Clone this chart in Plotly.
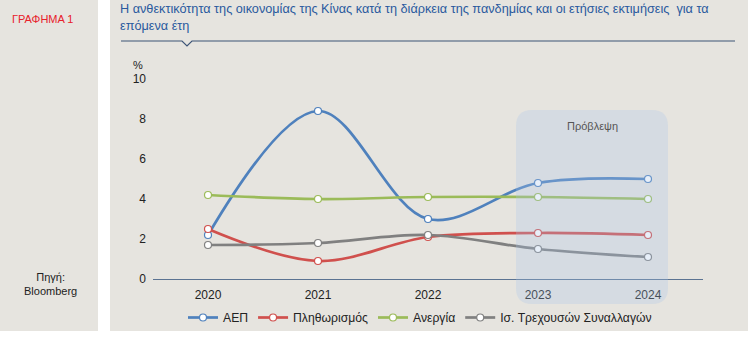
import plotly.graph_objects as go

W, H = 751, 338

years = [2020, 2021, 2022, 2023, 2024]
gdp = [2.2, 8.4, 3.0, 4.8, 5.0]
inflation = [2.5, 0.9, 2.1, 2.3, 2.2]
unemployment = [4.2, 4.0, 4.1, 4.1, 4.0]
current_account = [1.7, 1.8, 2.2, 1.5, 1.1]

series_names = ["ΑΕΠ", "Πληθωρισμός", "Ανεργία", "Ισ. Τρεχουσών Συναλλαγών"]
series_values = [gdp, inflation, unemployment, current_account]
series_colors = ["#4f81bd", "#d0504d", "#9bbb59", "#808080"]

y_ticks = [0, 2, 4, 6, 8, 10]

title_text = ("Η ανθεκτικότητα της οικονομίας της Κίνας κατά τη διάρκεια της πανδημίας "
              "και οι ετήσιες εκτιμήσεις  για τα<br>επόμενα έτη")

FONT = "Liberation Sans, Arial, sans-serif"


def px_x(p):
    return p / W


def px_y(p):
    return 1 - p / H


fig = go.Figure()
for name, vals, col in zip(series_names, series_values, series_colors):
    fig.add_trace(go.Scatter(
        x=years, y=vals, name=name, mode="lines+markers",
        line=dict(color=col, width=2.7, shape="spline", smoothing=1.0),
        marker=dict(size=7, color="white", line=dict(color=col, width=1.2)),
    ))

shapes = [
    # side panel and main panel backgrounds
    dict(type="rect", xref="paper", yref="paper", layer="below",
         x0=0, x1=px_x(98), y0=px_y(331), y1=1,
         fillcolor="#e6e4df", line=dict(width=0)),
    dict(type="rect", xref="paper", yref="paper", layer="below",
         x0=px_x(110), x1=px_x(748), y0=px_y(331), y1=1,
         fillcolor="#e6e4df", line=dict(width=0)),
    # rule under the heading with a small notch
    dict(type="path", xref="paper", yref="paper",
         path=(f"M {px_x(121)},{px_y(41)} L {px_x(182)},{px_y(41)} "
               f"L {px_x(187)},{px_y(46)} L {px_x(192)},{px_y(41)} "
               f"L {px_x(735)},{px_y(41)}"),
         line=dict(color="#3d5577", width=1.2)),
]

# forecast band with rounded corners
bx0, bx1, by0, by1, r = 516, 668, 110, 304, 16
X0, X1 = px_x(bx0), px_x(bx1)
Y0, Y1 = px_y(by1), px_y(by0)
rx, ry = r / W, r / H
band = (f"M {X0 + rx},{Y1} L {X1 - rx},{Y1} Q {X1},{Y1} {X1},{Y1 - ry} "
        f"L {X1},{Y0 + ry} Q {X1},{Y0} {X1 - rx},{Y0} "
        f"L {X0 + rx},{Y0} Q {X0},{Y0} {X0},{Y0 + ry} "
        f"L {X0},{Y1 - ry} Q {X0},{Y1} {X0 + rx},{Y1} Z")
shapes.append(dict(type="path", xref="paper", yref="paper", layer="above", path=band,
                   fillcolor="rgba(170,196,232,0.28)", line=dict(width=0)))

annotations = [
    dict(text="ΓΡΑΦΗΜΑ 1", xref="paper", yref="paper", x=px_x(10), y=px_y(19),
         xanchor="left", yanchor="middle", showarrow=False,
         font=dict(family=FONT, size=11, color="#e8202a")),
    dict(text="Πηγή:<br>Bloomberg", xref="paper", yref="paper", x=px_x(50), y=px_y(284),
         xanchor="center", yanchor="middle", showarrow=False,
         font=dict(family=FONT, size=11, color="#222222")),
    dict(text=title_text, xref="paper", yref="paper", x=px_x(118), y=px_y(0),
         xanchor="left", yanchor="top", align="left", showarrow=False,
         font=dict(family=FONT, size=12.7, color="#2a5a9e")),
    dict(text="%", xref="paper", yref="paper", x=px_x(138), y=px_y(65),
         xanchor="center", yanchor="middle", showarrow=False,
         font=dict(family=FONT, size=11, color="#222222")),
    dict(text="Πρόβλεψη", xref="paper", yref="paper", x=px_x(592), y=px_y(126),
         xanchor="center", yanchor="middle", showarrow=False,
         font=dict(family=FONT, size=11, color="#555555")),
]

fig.update_layout(
    width=W, height=H,
    margin=dict(l=0, r=0, t=0, b=0, autoexpand=False),
    paper_bgcolor="white", plot_bgcolor="rgba(0,0,0,0)",
    font=dict(family=FONT, size=11, color="#222222"),
    showlegend=True,
    legend=dict(orientation="h", x=px_x(183), y=px_y(303), xanchor="left", yanchor="top",
                bgcolor="rgba(0,0,0,0)", font=dict(family=FONT, size=12.2, color="#222222"),
                itemwidth=30, tracegroupgap=0),
    xaxis=dict(domain=[px_x(153), px_x(703)], range=[2019.5, 2024.5],
               tickvals=years, ticktext=[str(y) for y in years],
               showgrid=False, zeroline=False, showline=True,
               linecolor="#5b7392", linewidth=1, ticks="", ticklabelstandoff=5,
               tickfont=dict(family=FONT, size=12, color="#222222")),
    yaxis=dict(domain=[px_y(279), px_y(79)], range=[0, 10],
               tickvals=y_ticks, showgrid=False, zeroline=False, showline=False,
               ticks="", ticklabelstandoff=6,
               tickfont=dict(family=FONT, size=12, color="#222222")),
    shapes=shapes,
    annotations=annotations,
)

fig.write_html("out.html")
